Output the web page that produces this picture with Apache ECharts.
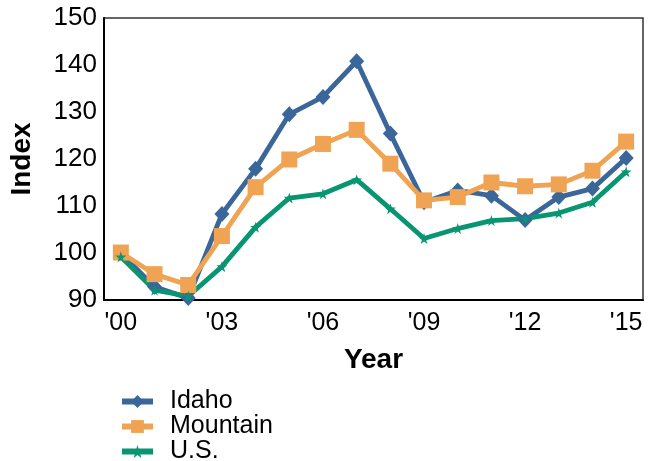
<!DOCTYPE html>
<html>
<head>
<meta charset="utf-8">
<script src="https://cdn.jsdelivr.net/npm/echarts@6/dist/echarts.min.js"></script>
<style>
  html, body { margin: 0; padding: 0; background: #fff; }
  #chart { width: 657px; height: 461px; }
</style>
</head>
<body>
<div id="chart"></div>
<script>
// Price index by year, 2000 = 100
const years = ["'00", "'01", "'02", "'03", "'04", "'05", "'06", "'07", "'08", "'09", "'10", "'11", "'12", "'13", "'14", "'15"];
const idaho    = [100, 92.8, 90.4, 108.3, 117.9, 129.5, 133.2, 140.8, 125.4, 110.8, 113.3, 112.2, 107.0, 111.9, 113.7, 120.2];
const mountain = [100.1, 95.5, 93.2, 103.6, 114.0, 119.9, 123.2, 126.2, 119.0, 111.2, 111.9, 115.0, 114.2, 114.6, 117.5, 123.7];
const us       = [99.2, 92.1, 90.8, 97.1, 105.5, 111.7, 112.6, 115.6, 109.4, 103.1, 105.2, 106.9, 107.3, 108.5, 110.8, 117.3];
const yTicks = { min: 90, max: 150, step: 10 };

const star = 'path://M50,0 L61,35 L98,35 L68,57 L79,91 L50,70 L21,91 L32,57 L2,35 L39,35 Z';
const font = 'Liberation Sans, Arial, sans-serif';

const chart = echarts.init(document.getElementById('chart'), null, { renderer: 'canvas' });

function line(name, data, color, symbol, size) {
  return {
    name, type: 'line', data,
    symbol, symbolSize: size,
    lineStyle: { color, width: 4.8 },
    itemStyle: { color },
    z: 2
  };
}

chart.setOption({
  animation: false,
  textStyle: { fontFamily: font },
  grid: { left: 104, right: 14, top: 18, bottom: 161, show: true, borderColor: '#333', borderWidth: 1.5 },
  xAxis: {
    type: 'category', data: years, boundaryGap: true,
    name: 'Year', nameLocation: 'middle', nameGap: 46,
    nameTextStyle: { fontSize: 28, fontWeight: 'bold', color: '#000', fontFamily: font },
    axisLine: { lineStyle: { color: '#000', width: 2 } },
    axisTick: { show: false },
    axisLabel: { interval: 2, fontSize: 25, color: '#000', margin: 11, fontFamily: font }
  },
  yAxis: {
    type: 'value', min: yTicks.min, max: yTicks.max, interval: yTicks.step,
    name: 'Index', nameLocation: 'middle', nameGap: 68, nameRotate: 90,
    nameTextStyle: { fontSize: 28, fontWeight: 'bold', color: '#000', fontFamily: font },
    axisLine: { show: true, lineStyle: { color: '#000', width: 2 } },
    axisTick: { show: false },
    splitLine: { show: false },
    axisLabel: { fontSize: 26, color: '#000', margin: 7, fontFamily: font }
  },
  legend: {
    orient: 'vertical', left: 119, top: 389, height: 120, padding: 0,
    itemWidth: 31, itemHeight: 16, itemGap: 0,
    lineStyle: { width: 6 },
    textStyle: { fontSize: 25, lineHeight: 25, color: '#000', fontFamily: font, padding: [0, 0, 0, 12] },
    data: ['Idaho', 'Mountain', 'U.S.']
  },
  series: [
    line('U.S.', us, '#079572', star, 11),
    line('Mountain', mountain, '#F0A352', 'rect', 16),
    line('Idaho', idaho, '#3A6699', 'diamond', [15, 16])
  ].reverse()
});
</script>
</body>
</html>
